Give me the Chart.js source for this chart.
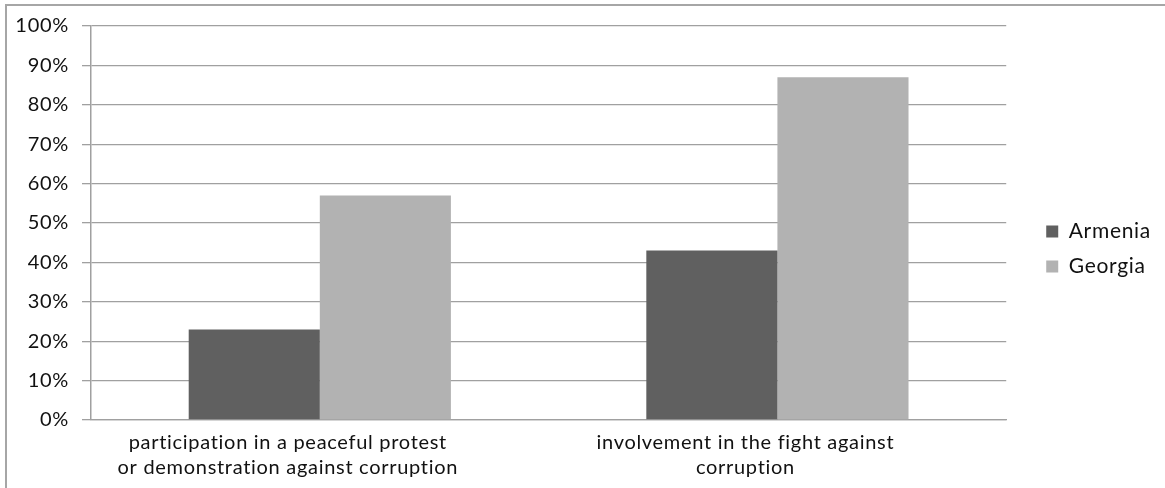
<!DOCTYPE html>
<html>
<head>
<meta charset="utf-8">
<script src="https://cdn.jsdelivr.net/npm/chart.js@4"></script>
<style>
  html, body { margin: 0; padding: 0; background: #fff; }
  #wrap { width: 1165px; height: 488px; position: relative; }
</style>
</head>
<body>
<div id="wrap"><canvas id="c"></canvas></div>
<script>
const categories = [
  ["participation in a peaceful protest", "or demonstration against corruption"],
  ["involvement in the fight against", "corruption"]
];
const seriesNames = ["Armenia", "Georgia"];
const armeniaValues = [23, 43];
const georgiaValues = [57, 87];
const yTicks = [0, 10, 20, 30, 40, 50, 60, 70, 80, 90, 100];

const FONT = "Lato, 'Open Sans', sans-serif";
const SPACING = '0.7px';

const spacingPlugin = {
  id: 'spacing',
  beforeInit(chart) { chart.ctx.letterSpacing = SPACING; },
  beforeUpdate(chart) { chart.ctx.letterSpacing = SPACING; },
  beforeLayout(chart) { chart.ctx.letterSpacing = SPACING; },
  beforeDraw(chart) { chart.ctx.letterSpacing = SPACING; }
};

const framePlugin = {
  id: 'frame',
  beforeDraw(chart) {
    const ctx = chart.ctx;
    ctx.save();
    ctx.fillStyle = '#fff';
    ctx.fillRect(0, 0, chart.width, chart.height);
    ctx.strokeStyle = '#a6a6a6';
    ctx.lineWidth = 2;
    ctx.beginPath();
    ctx.moveTo(6, chart.height + 5);
    ctx.lineTo(6, 5);
    ctx.lineTo(chart.width + 5, 5);
    ctx.stroke();
    ctx.restore();
  }
};

const legendShift = {
  id: 'legendShift',
  afterLayout(chart) {
    const lg = chart.legend;
    if (lg) { lg.left += 26; lg.right += 26; lg.top -= 8; lg.bottom -= 8; }
  }
};

new Chart(document.getElementById('c'), {
  type: 'bar',
  data: {
    labels: categories,
    datasets: [
      { label: seriesNames[0], data: armeniaValues, backgroundColor: '#606060', borderWidth: 0 },
      { label: seriesNames[1], data: georgiaValues, backgroundColor: '#b2b2b2', borderWidth: 0 }
    ]
  },
  options: {
    responsive: true,
    maintainAspectRatio: false,
    animation: false,
    devicePixelRatio: 1,
    layout: { padding: { top: 26, left: 0, right: 30, bottom: 0 } },
    datasets: { bar: { categoryPercentage: 0.573, barPercentage: 1.0 } },
    plugins: {
      tooltip: { enabled: false },
      legend: {
        position: 'right',
        align: 'center',
        labels: {
          boxWidth: 12,
          boxHeight: 12,
          padding: 14,
          color: '#111',
          font: { family: FONT, size: 21 }
        }
      }
    },
    scales: {
      x: {
        grid: { display: false, drawTicks: false },
        border: { display: true, color: '#a0a0a0', width: 1.3 },
        ticks: {
          color: '#111',
          font: { family: FONT, size: 20, lineHeight: 1.25 },
          maxRotation: 0,
          autoSkip: false,
          padding: 10,
          labelOffset: -32
        },
        afterFit(scale) { scale.height = 68; }
      },
      y: {
        min: 0,
        max: 100,
        afterBuildTicks(scale) { scale.ticks = yTicks.map(v => ({ value: v })); },
        grid: { color: '#a0a0a0', lineWidth: 1.3, tickLength: 9, drawTicks: true },
        border: { display: true, color: '#a0a0a0', width: 1.5 },
        ticks: {
          color: '#111',
          font: { family: FONT, size: 20 },
          padding: 13,
          callback: v => v + '%'
        },
        afterFit(scale) { scale.width = 91; }
      }
    }
  },
  plugins: [spacingPlugin, framePlugin, legendShift]
});
</script>
</body>
</html>
